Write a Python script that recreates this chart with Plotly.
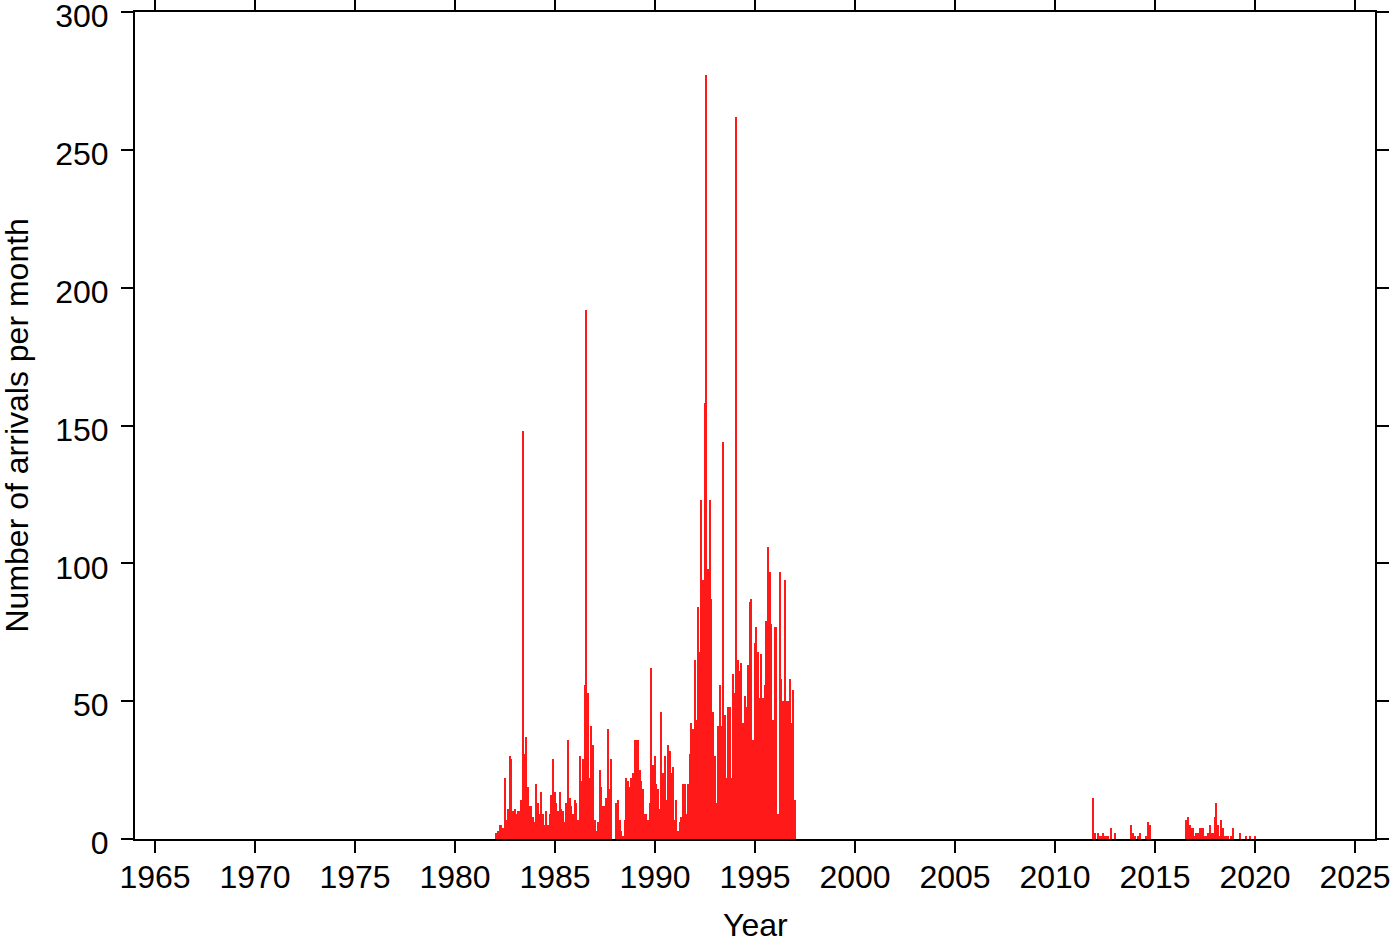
import plotly.graph_objects as go

# Monthly arrival counts, Jan 1982 .. Dec 1996
early_start_year = 1982
early_counts = [
    2, 3, 5, 5, 4, 22, 7, 11, 30, 29, 10, 11,
    9, 10, 10, 14, 148, 31, 37, 19, 12, 12, 8, 6,
    20, 13, 9, 17, 9, 5, 10, 5, 9, 16, 29, 17,
    13, 10, 17, 11, 10, 6, 13, 36, 15, 12, 9, 14,
    13, 7, 30, 21, 29, 56, 192, 53, 22, 41, 34, 7,
    3, 6, 25, 19, 12, 12, 15, 40, 18, 29, 0, 0,
    13, 14, 7, 3, 1, 7, 22, 21, 19, 22, 24, 36,
    36, 36, 25, 21, 18, 9, 9, 7, 13, 62, 27, 30,
    20, 18, 11, 46, 24, 30, 14, 34, 32, 24, 26, 7,
    14, 3, 6, 8, 20, 20, 9, 20, 31, 42, 40, 65,
    43, 84, 68, 123, 94, 158, 277, 98, 123, 87, 46, 30,
    13, 41, 56, 41, 144, 45, 22, 48, 48, 22, 60, 53,
    262, 65, 61, 64, 42, 52, 48, 63, 86, 87, 36, 71,
    77, 68, 51, 67, 51, 56, 79, 106, 97, 78, 43, 77,
    77, 9, 97, 58, 50, 94, 50, 50, 58, 42, 54, 14,
]

# Monthly arrival counts, Jan 2011 .. Dec 2019
late_start_year = 2011
late_counts = [
    0, 0, 0, 0, 0, 0, 0, 0, 0, 0, 15, 2,
    0, 2, 1, 1, 2, 1, 1, 1, 0, 4, 0, 2,
    0, 0, 0, 0, 0, 0, 0, 0, 0, 5, 2, 1,
    0, 1, 2, 0, 0, 0, 1, 6, 5, 0, 0, 0,
    0, 0, 0, 0, 0, 0, 0, 0, 0, 0, 0, 0,
    0, 0, 0, 0, 0, 0, 7, 8, 5, 4, 4, 1,
    2, 2, 4, 4, 4, 1, 1, 2, 5, 2, 2, 8,
    13, 5, 1, 7, 4, 1, 1, 1, 0, 1, 4, 0,
    0, 0, 2, 0, 0, 0, 1, 0, 1, 0, 0, 1,
]

x_ticks = list(range(1965, 2030, 5))
y_ticks = list(range(0, 301, 50))
x_title = "Year"
y_title = "Number of arrivals per month"


def month_positions(start_year, n):
    return [start_year + (i + 0.9) / 12.0 for i in range(n)]


x_vals = month_positions(early_start_year, len(early_counts)) + \
    month_positions(late_start_year, len(late_counts))
y_vals = early_counts + late_counts

FONT = "Liberation Sans, Arial, Helvetica, sans-serif"
FS = 32

fig = go.Figure()
fig.add_trace(go.Bar(
    x=x_vals,
    y=y_vals,
    width=0.95 / 12.0,
    marker=dict(color="rgb(255,25,25)", line=dict(width=0)),
    showlegend=False,
))

fig.update_layout(
    width=1400,
    height=942,
    margin=dict(l=135, r=25, t=12, b=103, autoexpand=False),
    paper_bgcolor="white",
    plot_bgcolor="white",
    font=dict(family=FONT, size=FS, color="black"),
    bargap=0,
    annotations=[
        dict(text=x_title, xref="paper", yref="paper", x=0.5, y=0,
             xanchor="center", yanchor="middle", yshift=-86, showarrow=False,
             font=dict(family=FONT, size=FS, color="black")),
        dict(text=y_title, xref="paper", yref="paper", x=0, y=0.5,
             xanchor="center", yanchor="middle", xshift=-119, textangle=-90,
             showarrow=False, font=dict(family=FONT, size=FS, color="black")),
    ],
)

fig.update_xaxes(
    range=[1964, 2026],
    tickvals=x_ticks,
    ticktext=[str(v) for v in x_ticks],
    ticks="outside",
    ticklen=12,
    tickwidth=2,
    tickcolor="black",
    showline=True,
    linewidth=2,
    linecolor="black",
    mirror="allticks",
    showgrid=False,
    zeroline=False,
    automargin=False,
    ticklabeloverflow="allow",
    ticklabelstandoff=-3,
)

fig.update_yaxes(
    range=[0, 300],
    tickvals=y_ticks,
    ticktext=[str(v) for v in y_ticks],
    ticks="outside",
    ticklen=12,
    tickwidth=2,
    tickcolor="black",
    showline=True,
    linewidth=2,
    linecolor="black",
    mirror="allticks",
    showgrid=False,
    zeroline=False,
    automargin=False,
    ticklabeloverflow="allow",
    ticklabelstandoff=6,
    ticklabelshift=4,
)

fig.write_html(
    "out.html",
    config={"displayModeBar": False},
    post_script="document.body.style.margin='0';document.body.style.overflow='hidden';",
)
